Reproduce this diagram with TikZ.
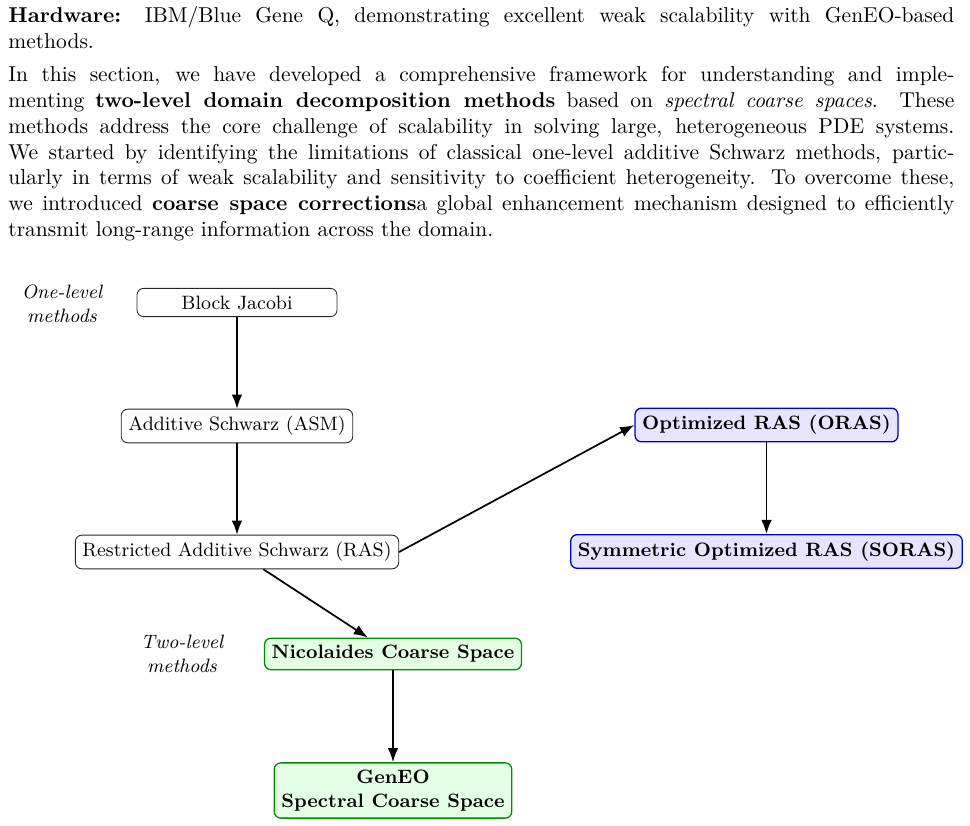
\documentclass[tikz,border=0pt]{standalone}
\usetikzlibrary{arrows.meta}
\setlength{\parindent}{0pt}
\begin{document}
\begin{tikzpicture}[x=0.46512pt,y=-0.46512pt,
  plainbox/.style={draw=black!85, rounded corners=3pt, fill=white, font=\small, minimum width=93pt, inner sep=3.33pt},
  bluebox/.style={draw=blue!75!black, semithick, rounded corners=3pt, fill=blue!10, font=\small\bfseries, inner sep=3.33pt},
  greenbox/.style={draw=green!55!black, semithick, rounded corners=3pt, fill=green!10, font=\small\bfseries, inner sep=3.33pt, align=center},
  lab/.style={font=\small\itshape, align=center, inner sep=1pt},
  conn/.style={-{Latex}, thick, draw=black}]
\useasboundingbox (0,0) rectangle (970,826);

\node[anchor=north west, inner sep=0pt, text width=440pt, align=justify] (txt) at (8,6) {%
\textbf{Hardware:} IBM/Blue Gene Q, demonstrating excellent weak scalability with GenEO-based\linebreak
methods.\par\vspace{3.5pt}
In this section, we have developed a comprehensive framework for understanding and imple-\linebreak
menting \textbf{two-level domain decomposition methods} based on \textit{spectral coarse spaces}. These\linebreak
methods address the core challenge of scalability in solving large, heterogeneous PDE systems.\linebreak
We started by identifying the limitations of classical one-level additive Schwarz methods, partic-\linebreak
ularly in terms of weak scalability and sensitivity to coefficient heterogeneity. To overcome these,\linebreak
we introduced \textbf{coarse space corrections}a global enhancement mechanism designed to efficiently\linebreak
transmit long-range information across the domain.};

\node[lab] (one) at (62,303.5) {One-level\\methods};
\node[lab] (two) at (182,654) {Two-level\\methods};

\node[plainbox] (bj) at (237,302.5) {Block Jacobi};
\node[plainbox] (asm) at (237,426) {Additive Schwarz (ASM)};
\node[plainbox] (ras) at (237,552) {Restricted Additive Schwarz (RAS)};
\node[bluebox] (oras) at (766.5,425) {Optimized RAS (ORAS)};
\node[bluebox] (soras) at (766.5,551.5) {Symmetric Optimized RAS (SORAS)};
\node[greenbox] (nic) at (393,654) {Nicolaides Coarse Space};
\node[greenbox] (geneo) at (393,790.5) {GenEO\\Spectral Coarse Space};

\draw[conn] (bj) -- (asm);
\draw[conn] (asm) -- (ras);
\draw[conn] (ras.east) -- (oras.west);
\draw[conn] (oras) -- (soras);
\draw[conn] (ras) -- (nic);
\draw[conn] (nic) -- (geneo);
\end{tikzpicture}
\end{document}
